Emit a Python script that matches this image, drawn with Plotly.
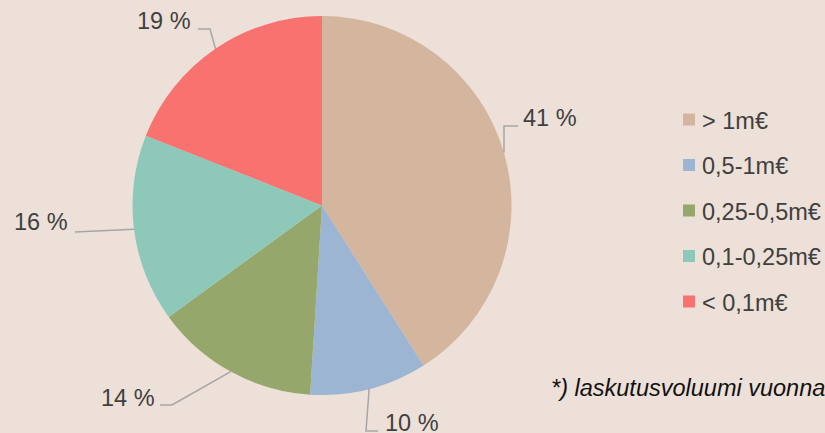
import math
import plotly.graph_objects as go

# ---- data ----
categories = ["> 1m€", "0,5-1m€", "0,25-0,5m€", "0,1-0,25m€", "< 0,1m€"]
shares = [41, 10, 14, 16, 19]
footnote = "*) laskutusvoluumi vuonna"

# ---- styles ----
colors = ["#D4B59E", "#9BB5D3", "#95A76B", "#8DC8B9", "#F8726F"]
BG = "#EDE0D8"
TXT = "#404040"
LINE = "#A6A6A6"
FONT = "Liberation Sans, Arial, sans-serif"
W, H = 825, 433
CX, CY, R = 322.0, 205.5, 189.5

# leader-line bends and label placement (pixels), one per slice
leader_bends = [
    [(504, 126), (518, 126)],
    [(366, 431), (378, 431)],
    [(172, 405), (160, 405)],
    [(75, 232)],
    [(210, 29), (198, 29)],
]
text_pos = [(521, 118, "left"), (383, 423, "left"), (157, 398, "right"),
            (70, 222, "right"), (193, 21, "right")]


def px(x):
    return x / W


def py(y):
    return 1 - y / H


fig = go.Figure(go.Pie(
    labels=categories, values=shares, sort=False, direction="clockwise",
    rotation=0, marker=dict(colors=colors, line=dict(width=0)),
    textinfo="none", hoverinfo="label+percent", showlegend=False,
    domain=dict(x=[px(CX - R), px(CX + R)], y=[py(CY + R), py(CY - R)]),
))

shapes = []
annotations = []
total = sum(shares)
cum = 0
for i, v in enumerate(shares):
    mid = (cum + v / 2) / total * 2 * math.pi
    cum += v
    ax = CX + R * math.sin(mid)
    ay = CY - R * math.cos(mid)
    pts = [(ax, ay)] + leader_bends[i]
    path = "M " + " L ".join(f"{px(x)},{py(y)}" for x, y in pts)
    shapes.append(dict(type="path", path=path, xref="paper", yref="paper",
                       line=dict(color=LINE, width=1.5)))
    tx, ty, anc = text_pos[i]
    annotations.append(dict(text=f"{v} %", x=px(tx), y=py(ty), xref="paper",
                            yref="paper", xanchor=anc, yanchor="middle",
                            showarrow=False,
                            font=dict(family=FONT, size=23.5, color=TXT)))

# legend
for i, (c, lab) in enumerate(zip(colors, categories)):
    yc = 119.5 + i * 45.5
    shapes.append(dict(type="rect", xref="paper", yref="paper",
                       x0=px(683), x1=px(695), y0=py(yc - 6), y1=py(yc + 6),
                       fillcolor=c, line=dict(width=0)))
    annotations.append(dict(text=lab, x=px(700), y=py(yc + 1), xref="paper",
                            yref="paper", xanchor="left", yanchor="middle",
                            showarrow=False,
                            font=dict(family=FONT, size=23.5, color=TXT)))

annotations.append(dict(text=f"<i>{footnote}</i>", x=px(549), y=py(388),
                        xref="paper", yref="paper", xanchor="left",
                        yanchor="middle", showarrow=False,
                        font=dict(family=FONT, size=23.5, color="#111111")))

fig.update_layout(width=W, height=H, autosize=False,
                  margin=dict(l=0, r=0, t=0, b=0),
                  paper_bgcolor=BG, plot_bgcolor=BG,
                  shapes=shapes, annotations=annotations)

fig.write_html("out.html",
               config={"displayModeBar": False},
               post_script="document.body.style.margin='0';"
                           "document.body.style.overflow='hidden';")
